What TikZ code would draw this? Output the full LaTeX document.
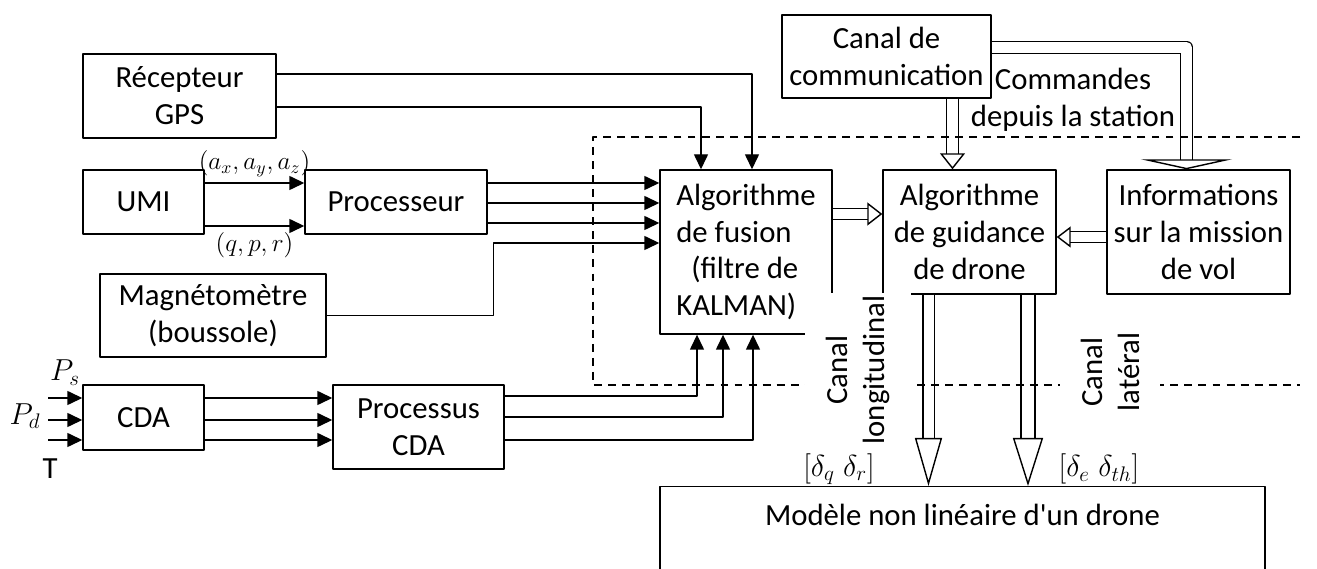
\documentclass[tikz,border=0pt]{standalone}
\usepackage{fontspec}
\setmainfont{Carlito}
\usepackage{tikz}
\usetikzlibrary{arrows.meta,calc,positioning}
\tikzset{blk/.style={draw,line width=0.8pt,align=center,inner sep=0pt},
  hollow/.style={double,double distance=#1,line width=0.8pt},
  lbl/.style={font=\fontsize{16.5}{19}\selectfont},
  sig/.style={font=\fontsize{14.5}{17}\selectfont},
  chan/.style={rotate=90,align=center,fill=white,inner xsep=0.05cm,inner ysep=0.42cm}}

\begin{document}
\begin{tikzpicture}[>={Triangle[length=0.3cm,width=0.28cm]},line width=0.8pt,line join=round,font=\fontsize{17.5}{21}\selectfont]
\useasboundingbox (0,0) rectangle (26.34,-11.38);
% --- sensors and pre-processing
\node[blk,minimum width=3.86cm,minimum height=1.68cm] (gps) at (3.59,-1.92) {Récepteur\\GPS};
\node[blk,minimum width=2.42cm,minimum height=1.28cm] (umi) at (2.87,-4.04) {UMI};
\node[blk,minimum width=3.64cm,minimum height=1.28cm] (proc) at (7.92,-4.04) {Processeur};
\node[blk,minimum width=4.52cm,minimum height=1.66cm] (mag) at (4.26,-6.31) {Magnétomètre\\(boussole)};
\node[blk,minimum width=2.42cm,minimum height=1.30cm] (cda) at (2.87,-8.35) {CDA};
\node[blk,minimum width=3.42cm,minimum height=1.68cm] (pcda) at (8.37,-8.54) {Processus\\CDA};
% --- fusion, guidance, mission
\node[blk,align=left,minimum width=3.44cm,minimum height=3.28cm] (fusion) at (14.92,-5.04) {Algorithme\\de fusion\\\hspace{0.3cm}(filtre de\\KALMAN)};
\node[blk,minimum width=4.18cm,minimum height=1.66cm] (canal) at (17.73,-1.13) {Canal de\\communication};
\node[blk,minimum width=3.46cm,minimum height=2.48cm] (guid) at (19.39,-4.64) {Algorithme\\de guidance\\de drone};
\node[blk,minimum width=3.66cm,minimum height=2.48cm] (info) at (23.97,-4.64) {Informations\\sur la mission\\de vol};
\node[blk,minimum width=12.1cm,text height=0.77cm,text depth=1.91cm,anchor=north] (model) at (19.25,-9.72) {Modèle non linéaire d\textquotesingle un drone};

% --- GPS into fusion
\draw[->] ($(gps.east)+(0,0.44)$) -| ($(fusion.north)+(0.12,0)$);
\draw[->] ($(gps.east)+(0,-0.22)$) -| ($(fusion.north)+(-0.9,0)$);
% --- UMI -> processeur -> fusion
\draw[->] ($(umi.east)+(0,0.38)$) coordinate (u1) -- (u1 -| proc.west) node[sig,midway,above] {$(a_x,a_y,a_z)$};
\draw[->] ($(umi.east)+(0,-0.48)$) coordinate (u2) -- (u2 -| proc.west) node[sig,midway,below] {$(q,p,r)$};
\foreach \dy in {0.38,-0.02,-0.42}
  \draw[->] ($(proc.east)+(0,\dy)$) coordinate (p1) -- (p1 -| fusion.west);
\draw[->] (mag.east) -- ++(3.34,0) |- ($(fusion.west)+(0,0.18)$);
% --- air data
\foreach \dy in {0.39,-0.05,-0.45} {
  \draw[->] ($(cda.west)+(-0.68,\dy)$) -- ($(cda.west)+(0,\dy)$);
  \draw[->] ($(cda.east)+(0,\dy)$) coordinate (c1) -- (c1 -| pcda.west);
}
\node[font=\fontsize{18}{21}\selectfont] (ps) at (1.3,-7.45) {$P_s$};
\node[font=\fontsize{18}{21}\selectfont] (pd) at (0.5,-8.32) {$P_d$};
\node (tt) at (1.0,-9.38) {T};
\draw[->] ($(pcda.east)+(0,0.62)$) -| ($(fusion.south)+(-0.98,0)$);
\draw[->] ($(pcda.east)+(0,0.2)$) -| ($(fusion.south)+(-0.46,0)$);
\draw[->] ($(pcda.east)+(0,-0.26)$) -| ($(fusion.south)+(0.14,0)$);

% --- wide arrows
\draw[hollow=0.19cm,-{Triangle[open,length=0.3cm,width=0.46cm,line width=0.8pt]}] ($(fusion.east)+(0,0.76)$) coordinate (f1) -- (f1 -| guid.west);
\draw[hollow=0.19cm,-{Triangle[open,length=0.28cm,width=0.42cm,line width=0.8pt]}] ($(info.west)+(0,-0.1)$) coordinate (i1) -- (i1 -| guid.east);
\draw[hollow=0.22cm,-{Triangle[open,length=0.32cm,width=0.5cm,line width=0.8pt]}] ($(canal.south)+(1.32,0)$) coordinate (k1) -- (k1 |- guid.north);
\draw[hollow=0.22cm,-{Triangle[open,length=0.2cm,width=1.82cm,line width=0.8pt]}] ($(canal.east)+(0,0.18)$) -| ($(info.north)+(-0.24,0)$);
\draw[hollow=0.2cm,-{Triangle[open,length=0.96cm,width=0.54cm,line width=0.8pt]}] ($(guid.south)+(-0.82,0)$) coordinate (g1) -- (g1 |- model.north);
\draw[hollow=0.25cm,-{Triangle[open,length=0.96cm,width=0.6cm,line width=0.8pt]}] ($(guid.south)+(1.17,0)$) coordinate (g2) -- (g2 |- model.north);
\node[align=center] (cmd) at (21.46,-2.0) {Commandes\\depuis la station};

% --- embedded part
\draw[dash pattern=on 4.5pt off 3.5pt] (26.0,-2.74) -- (11.86,-2.74) -- (11.86,-7.7) -- (26.0,-7.7);
\node[chan] (clong) at (17.16,-7.4) {Canal\\longitudinal};
\node[chan] (clat) at (22.2,-7.44) {Canal\\latéral};
\node[lbl] (dlong) at (16.78,-9.38) {$[\delta_q\;\delta_r]$};
\node[lbl] (dlat) at (21.98,-9.38) {$[\delta_e\;\delta_{th}]$};
\end{tikzpicture}
\end{document}
